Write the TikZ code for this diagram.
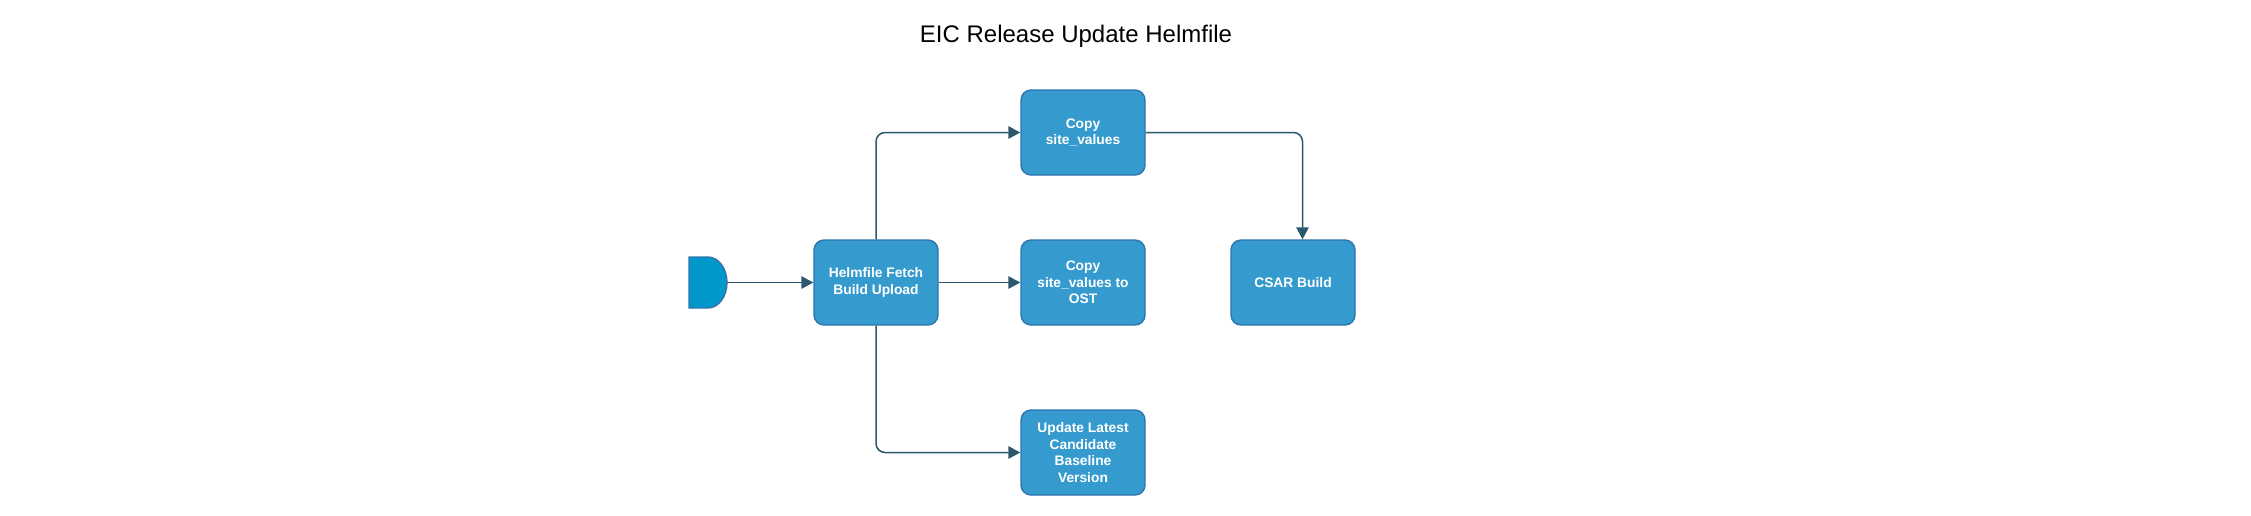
\documentclass[tikz,border=0pt]{standalone}
\usepackage{fontspec}
\setmainfont{Liberation Sans}
\usetikzlibrary{arrows.meta}
\definecolor{boxfill}{HTML}{359BCE}
\definecolor{boxline}{HTML}{2D75AE}
\definecolor{startfill}{HTML}{0098CB}
\definecolor{startline}{HTML}{3674AA}
\definecolor{connline}{HTML}{2B586C}
\tikzset{
  stepbox/.style={draw=boxline, fill=boxfill, line width=1.4pt, rounded corners=10pt,
    minimum width=124pt, minimum height=85pt, inner sep=0pt, align=center, text=white,
    font=\bfseries\fontsize{13.8}{16.4}\selectfont},
  conn/.style={draw=connline, line width=1.5pt, rounded corners=9pt,
    -{Triangle[length=12pt,width=12.5pt]}},
  titletext/.style={font=\fontsize{24}{28}\selectfont, text=black, inner sep=0pt}
}
\begin{document}
\begin{tikzpicture}[x=1pt,y=-1pt]
\useasboundingbox[fill=white] (0,0) rectangle (2251,515);
\node[titletext, anchor=base] (title) at (1076,42.3) {EIC Release Update Helmfile};
% start shape
\draw[fill=startfill, draw=startline, line width=1.4pt]
  (689,257) -- (708,257) .. controls (718.49,257) and (727,268.42) .. (727,282.5)
  .. controls (727,296.58) and (718.49,308) .. (708,308) -- (689,308) -- cycle;
\node[inner sep=0pt, minimum width=38pt, minimum height=51pt] (start) at (708,282.5) {};
\node[stepbox] (fetch) at (876,282.5) {Helmfile Fetch\\Build Upload};
\node[stepbox] (copy) at (1083,132.5) {Copy\\site\_values};
\node[stepbox] (ost) at (1083,282.5) {Copy\\site\_values to\\OST};
\node[stepbox] (csar) at (1293,282.5) {CSAR Build};
\node[stepbox] (update) at (1083,452.5) {Update Latest\\Candidate\\Baseline\\Version};
\draw[conn] (start.east) -- (fetch.west);
\draw[conn] (fetch.north) |- (copy.west);
\draw[conn] (fetch.east) -- (ost.west);
\draw[conn] (fetch.south) |- (update.west);
\draw[conn] (copy.east) -| ([xshift=9.5pt]csar.north);
\end{tikzpicture}
\end{document}
